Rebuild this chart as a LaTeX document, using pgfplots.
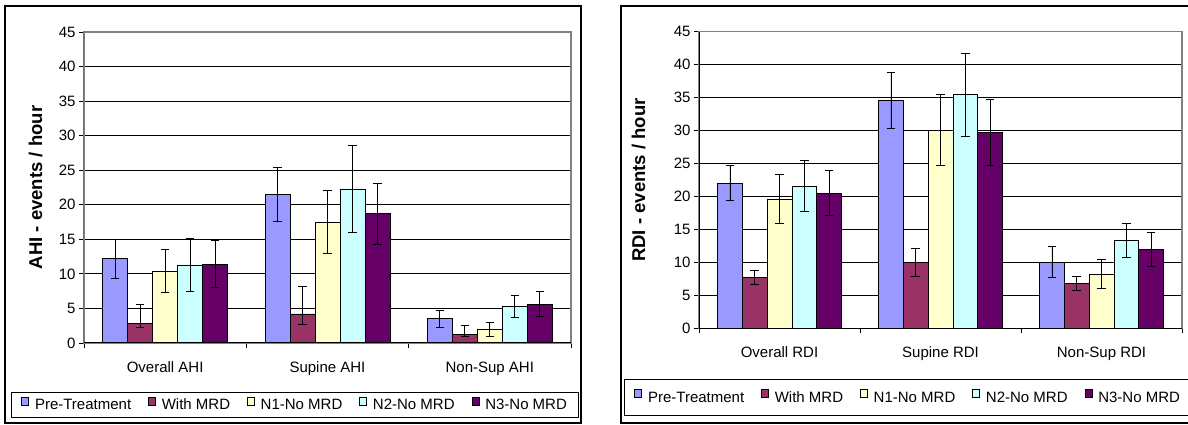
\documentclass[border=0pt]{standalone}
\usepackage{fontspec}
\setmainfont{Liberation Sans}
\usepackage{pgfplots}
\usepackage{pgfplotstable}
\pgfplotsset{compat=1.18}

\definecolor{cpre}{HTML}{9999FF}
\definecolor{cmrd}{HTML}{993366}
\definecolor{cnone}{HTML}{FFFFCC}
\definecolor{cntwo}{HTML}{CCFFFF}
\definecolor{cnthree}{HTML}{660066}

% AHI (left)
\pgfplotstableread{
x y ep em
0 12.2 2.8 2.8
1 21.5 3.9 3.9
2 3.5 1.2 1.2
}\ahiPre
\pgfplotstableread{
x y ep em
0 2.8 2.8 0.6
1 4.2 3.95 1.45
2 1.2 1.4 0.3
}\ahiMrd
\pgfplotstableread{
x y ep em
0 10.4 3.1 3.1
1 17.5 4.6 4.6
2 2.0 1.0 1.0
}\ahiNone
\pgfplotstableread{
x y ep em
0 11.3 3.8 3.8
1 22.3 6.3 6.3
2 5.25 1.6 1.6
}\ahiNtwo
\pgfplotstableread{
x y ep em
0 11.4 3.4 3.4
1 18.7 4.4 4.4
2 5.6 1.8 1.8
}\ahiNthree

% RDI (right)
\pgfplotstableread{
x y ep em
0 22.0 2.65 2.65
1 34.6 4.3 4.3
2 10.05 2.4 2.4
}\rdiPre
\pgfplotstableread{
x y ep em
0 7.75 1.1 1.1
1 9.95 2.1 2.1
2 6.8 1.0 1.0
}\rdiMrd
\pgfplotstableread{
x y ep em
0 19.6 3.7 3.7
1 30.1 5.4 5.4
2 8.25 2.2 2.2
}\rdiNone
\pgfplotstableread{
x y ep em
0 21.6 3.8 3.8
1 35.45 6.3 6.3
2 13.3 2.6 2.6
}\rdiNtwo
\pgfplotstableread{
x y ep em
0 20.5 3.4 3.4
1 29.7 5.0 5.0
2 12.0 2.6 2.6
}\rdiNthree

\pgfplotsset{
  excelbar/.style={
    scale only axis,
    anchor=south west,
    ymin=0, ymax=45, ytick={0,5,...,45},
    xmin=-0.5, xmax=2.5,
    xtick={-0.5,0.5,1.5,2.5}, xticklabels={},
    xtick pos=bottom, ytick pos=left,
    tick align=outside, major tick length=5pt,
    tick style={black, line width=0.8pt},
    ymajorgrids, major grid style={black, line width=0.8pt},
    axis line style={draw=gray, line width=1.2pt},
    /pgf/number format/assume math mode=true,
    tick label style={font=\fontsize{15}{18}\selectfont},
    ylabel style={font=\fontsize{18.5}{22}\selectfont\bfseries},
    extra x tick style={major tick length=0pt, tick style={draw=none},
      xticklabel style={yshift=-15pt}},
    ybar=0pt,
    error bars/y dir=both,
    error bars/y explicit,
    error bars/error bar style={black, line width=0.8pt},
    error bars/error mark options={black, line width=0.8pt, mark size=4.3pt, rotate=90},
    legend columns=5,
    legend image code/.code={\draw[#1, draw=black, line width=0.6pt] (0pt,0pt) rectangle (7pt,8pt);},
    legend style={draw=black, line width=0.9pt, fill=white,
      font=\fontsize{15}{18}\selectfont,
      inner xsep=10pt,
      /tikz/every odd column/.append style={column sep=4pt},
      /tikz/every even column/.append style={column sep=15pt}},
  },
  bs/.style={draw=black, line width=0.7pt, fill=#1},
}

\begin{document}
\begin{tikzpicture}
\useasboundingbox (0pt,0pt) rectangle (1188pt,425pt);
\fill[white] (0pt,0pt) rectangle (1188pt,425pt);
% outer frames
\draw[black, line width=1.2pt] (5pt,2pt) rectangle (581pt,419pt);
\draw[black, line width=1.2pt] (621pt,2pt) rectangle (1200pt,419pt);

\begin{axis}[excelbar,
  at={(84pt,82pt)}, width=487pt, height=311pt,
  bar width=25pt,
  ylabel={AHI - events / hour},
  ylabel style={at={(axis description cs:-0.0862,0.5)}, anchor=base},
  extra x ticks={0,1,2},
  extra x tick labels={Overall AHI,Supine AHI,Non-Sup AHI},
  legend style={at={(axis description cs:-0.1499,-0.1576)}, anchor=north west,
    inner ysep=4.5pt},
]
\addplot[bs=cpre] table[x=x,y=y,y error plus=ep,y error minus=em]{\ahiPre};
\addplot[bs=cmrd] table[x=x,y=y,y error plus=ep,y error minus=em]{\ahiMrd};
\addplot[bs=cnone] table[x=x,y=y,y error plus=ep,y error minus=em]{\ahiNone};
\addplot[bs=cntwo] table[x=x,y=y,y error plus=ep,y error minus=em]{\ahiNtwo};
\addplot[bs=cnthree] table[x=x,y=y,y error plus=ep,y error minus=em]{\ahiNthree};
\legend{Pre-Treatment,With MRD,N1-No MRD,N2-No MRD,N3-No MRD}
\draw[black, line width=1pt] (rel axis cs:0,0) -- (rel axis cs:0,1);
\draw[black, line width=1pt] (rel axis cs:0,0) -- (rel axis cs:1,0);
\end{axis}

\begin{axis}[excelbar,
  at={(699pt,96.7pt)}, width=483pt, height=296.6pt,
  bar width=24.8pt,
  ylabel={RDI - events / hour},
  ylabel style={at={(axis description cs:-0.1118,0.5)}, anchor=base},
  extra x ticks={0,1,2},
  extra x tick labels={Overall RDI,Supine RDI,Non-Sup RDI},
  legend style={at={(axis description cs:-0.15528,-0.17094)}, anchor=north west,
    inner ysep=10pt},
]
\addplot[bs=cpre] table[x=x,y=y,y error plus=ep,y error minus=em]{\rdiPre};
\addplot[bs=cmrd] table[x=x,y=y,y error plus=ep,y error minus=em]{\rdiMrd};
\addplot[bs=cnone] table[x=x,y=y,y error plus=ep,y error minus=em]{\rdiNone};
\addplot[bs=cntwo] table[x=x,y=y,y error plus=ep,y error minus=em]{\rdiNtwo};
\addplot[bs=cnthree] table[x=x,y=y,y error plus=ep,y error minus=em]{\rdiNthree};
\legend{Pre-Treatment,With MRD,N1-No MRD,N2-No MRD,N3-No MRD}
\draw[black, line width=1pt] (rel axis cs:0,0) -- (rel axis cs:0,1);
\draw[black, line width=1pt] (rel axis cs:0,0) -- (rel axis cs:1,0);
\end{axis}
\end{tikzpicture}
\end{document}
